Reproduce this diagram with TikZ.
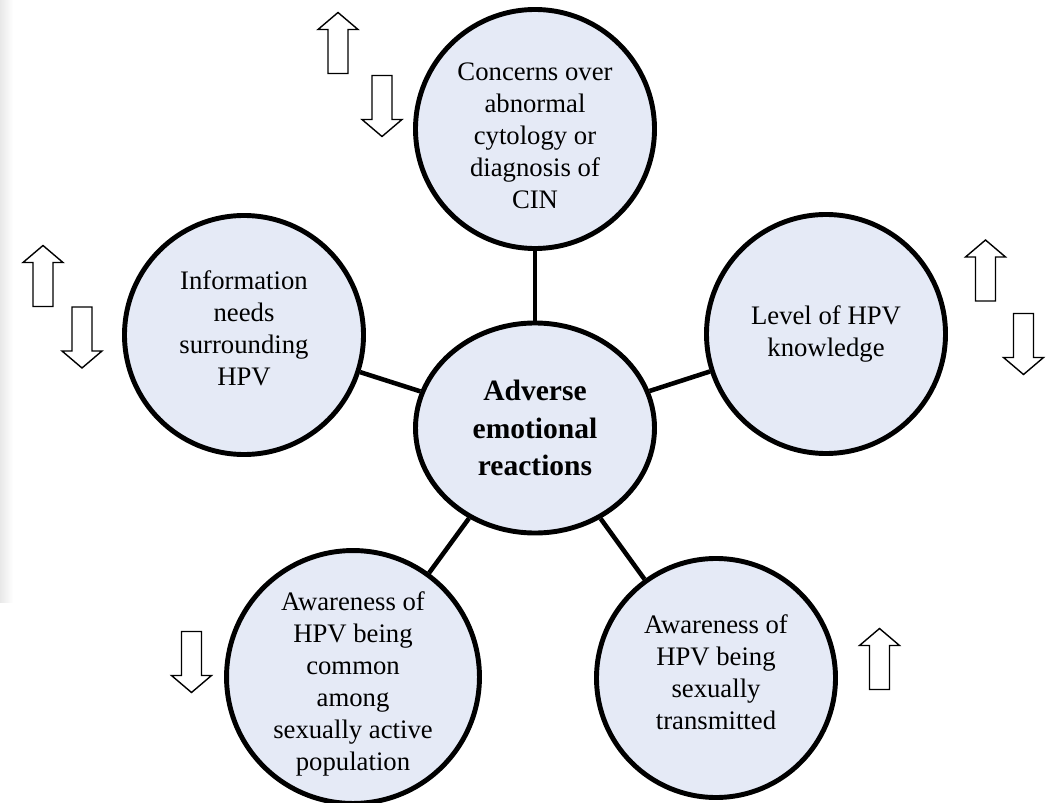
\documentclass[tikz,border=0pt]{standalone}
\usepackage{fontspec}
\setmainfont{Liberation Serif}
\usetikzlibrary{shapes.geometric}
\definecolor{lightC}{RGB}{229, 234, 246}
\definecolor{edgeC} {RGB}{232, 232, 232}

\tikzset{
  factor/.style={circle, draw=black, fill=lightC, line width=2.8pt, minimum size=4.78cm,
    inner sep=0pt, align=center, font=\fontsize{15.2}{18.2}\selectfont},
  hub/.style={ellipse, draw=black, fill=lightC, line width=2.8pt, minimum width=4.78cm,
    minimum height=4.2cm, inner sep=0pt, align=center, font=\bfseries\fontsize{16.8}{21.3}\selectfont},
  link/.style={line width=2.6pt},
  uparr/.pic={
    \draw[line width=0.8pt, fill=white] (-0.2,-0.61) -- (-0.2,0.27) -- (-0.4,0.27) -- (0,0.61)
      -- (0.4,0.27) -- (0.2,0.27) -- (0.2,-0.61) -- cycle;},
  downarr/.pic={
    \draw[line width=0.8pt, fill=white] (-0.2,0.61) -- (-0.2,-0.27) -- (-0.4,-0.27) -- (0,-0.61)
      -- (0.4,-0.27) -- (0.2,-0.27) -- (0.2,0.61) -- cycle;}
}

\begin{document}
\begin{tikzpicture}
  \useasboundingbox (0,0) rectangle (20.96,16.04);
  \shade[left color=edgeC, right color=white] (0,4.0) rectangle (0.26,16.04);

  \coordinate (H) at (10.70, 7.48);
  \coordinate (T) at (10.70, 13.46);
  \coordinate (L) at (4.88, 9.34);
  \coordinate (R) at (16.52, 9.36);
  \coordinate (BL) at (7.06, 2.50);
  \coordinate (BR) at (14.32, 2.48);

  \node[hub] (hub) at (H) {Adverse\\emotional\\reactions};

  \node[factor] (cyto) at (T) {\rule{0pt}{0.62cm}Concerns over\\abnormal\\cytology or\\diagnosis of\\CIN};
  \node[factor] (info) at (L) {Information\\needs\\surrounding\\HPV\rule[-0.28cm]{0pt}{0.28cm}};
  \node[factor] (know) at (R) {Level of HPV\\knowledge};
  \node[factor] (common) at (BL) {\rule{0pt}{0.64cm}Awareness of\\HPV being\\common\\among\\sexually active\\population};
  \node[factor] (sexual) at (BR) {Awareness of\\HPV being\\sexually\\transmitted\rule[-0.24cm]{0pt}{0.24cm}};

  \draw[link] (hub) -- (cyto);
  \draw[link] (hub) -- (info);
  \draw[link] (hub) -- (know);
  \draw[link] (hub) -- (common);
  \draw[link] (hub) -- (sexual);

  \pic (cytoUp)     at (6.76, 15.18) {uparr};
  \pic (cytoDown)   at (7.64, 13.92) {downarr};
  \pic (infoUp)     at (0.86, 10.52) {uparr};
  \pic (infoDown)   at (1.64, 9.29)  {downarr};
  \pic (knowUp)     at (19.71, 10.63) {uparr};
  \pic (knowDown)   at (20.47, 9.16) {downarr};
  \pic (commonDown) at (3.83, 2.80)  {downarr};
  \pic (sexualUp)   at (17.59, 2.86) {uparr};
\end{tikzpicture}
\end{document}
